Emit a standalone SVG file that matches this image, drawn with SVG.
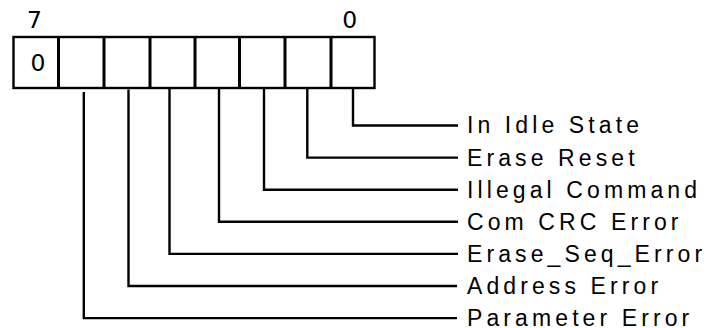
<svg xmlns="http://www.w3.org/2000/svg" width="712" height="328" viewBox="0 0 712 328">
<style>
.bg{fill:#ffffff}
.box{fill:#ffffff;stroke:#000;stroke-width:2.4}
.div{stroke:#000;stroke-width:3;fill:none}
.con{stroke:#000;stroke-width:2.4;fill:none}
.dig{font-family:"DejaVu Sans",sans-serif;font-size:23.5px;fill:#000;text-anchor:middle}
.lbl{font-family:"Liberation Sans",Arial,sans-serif;font-size:23px;letter-spacing:4.1px;fill:#000}
</style>
<rect class="bg" x="0" y="0" width="712" height="328"/>
<g id="register">
  <rect class="box" x="13.5" y="37" width="361" height="51"/>
  <path class="div" d="M58.5 37V88M104 37V88M150 37V88M195 37V88M239.5 37V88M285 37V88M331 37V88"/>
  <text class="dig" x="34.5" y="27.7">7</text>
  <text class="dig" x="349.7" y="28.2">0</text>
  <text class="dig" x="38" y="70.8">0</text>
</g>
<g id="connectors">
  <path class="con" d="M353 88V125.5H458"/>
  <path class="con" d="M307.3 88V157.6H458"/>
  <path class="con" d="M264 88V189.7H458"/>
  <path class="con" d="M219 88V221.8H458"/>
  <path class="con" d="M169.5 88V253.9H458"/>
  <path class="con" d="M128.5 89.5V286H457"/>
  <path class="con" d="M83.8 92V318.1H457"/>
</g>
<g id="labels">
  <text id="bit0" class="lbl" x="467" y="133.4">In Idle State</text>
  <text id="bit1" class="lbl" x="467" y="165.5">Erase Reset</text>
  <text id="bit2" class="lbl" x="467" y="197.6">Illegal Command</text>
  <text id="bit3" class="lbl" x="467" y="229.7">Com CRC Error</text>
  <text id="bit4" class="lbl" x="467" y="261.8">Erase_Seq_Error</text>
  <text id="bit5" class="lbl" x="467" y="293.9">Address Error</text>
  <text id="bit6" class="lbl" x="467" y="325.6">Parameter Error</text>
</g>
</svg>
